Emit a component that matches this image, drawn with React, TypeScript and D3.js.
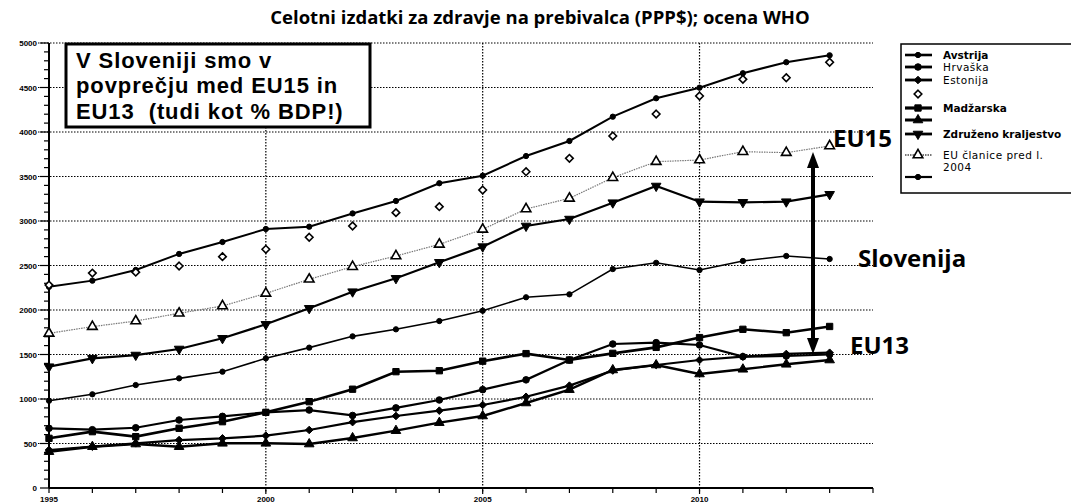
import * as d3 from "d3";

const years = [1995, 1996, 1997, 1998, 1999, 2000, 2001, 2002, 2003, 2004, 2005, 2006, 2007, 2008, 2009, 2010, 2011, 2012, 2013];

const avstrija = [2260, 2330, 2450, 2630, 2764, 2910, 2936, 3085, 3225, 3424, 3509, 3730, 3899, 4172, 4379, 4498, 4660, 4784, 4862];
const hrvaska = [671, 655, 677, 764, 805, 850, 876, 815, 900, 989, 1105, 1215, 1438, 1618, 1633, 1607, 1476, 1483, 1500];
const estonija = [427, 464, 502, 539, 558, 588, 652, 740, 809, 869, 933, 1025, 1150, 1320, 1382, 1438, 1476, 1506, 1520];
const diamondSeries = [2280, 2415, 2425, 2494, 2599, 2682, 2817, 2944, 3094, 3161, 3348, 3554, 3704, 3955, 4202, 4404, 4592, 4610, 4784];
const madzarska = [558, 633, 577, 671, 745, 850, 970, 1110, 1307, 1318, 1425, 1510, 1438, 1513, 1580, 1690, 1783, 1745, 1815];
const unnamedLine = [408, 464, 494, 464, 502, 502, 494, 562, 644, 734, 809, 955, 1105, 1326, 1382, 1281, 1334, 1390, 1438];
const zdruzenoKraljestvo = [1363, 1457, 1494, 1562, 1682, 1839, 2019, 2206, 2356, 2536, 2712, 2944, 3022, 3206, 3393, 3217, 3210, 3217, 3300];
const euPred2004 = [1738, 1813, 1876, 1963, 2045, 2187, 2345, 2487, 2607, 2738, 2906, 3135, 3255, 3487, 3667, 3685, 3779, 3768, 3843];
const slovenija = [981, 1053, 1157, 1232, 1307, 1457, 1577, 1704, 1783, 1876, 1992, 2143, 2176, 2460, 2530, 2449, 2551, 2607, 2573];

const yTicks = [0, 500, 1000, 1500, 2000, 2500, 3000, 3500, 4000, 4500, 5000];
const xTickLabels = [1995, 2000, 2005, 2010];

const title = "Celotni izdatki za zdravje na prebivalca (PPP$); ocena WHO";
const boxLines = ["V Sloveniji smo v", "povprečju med EU15 in", "EU13  (tudi kot % BDP!)"];

// legend order as in the picture, some labels are unreadable there
const legendRows = [
  { label: "Avstrija", bold: true },
  { label: "Hrvaška", bold: false },
  { label: "Estonija", bold: false },
  { label: "", bold: false },
  { label: "Madžarska", bold: true },
  { label: "", bold: false },
  { label: "Združeno kraljestvo", bold: true },
  { label: "EU članice pred l.|2004", bold: false },
  { label: "", bold: false },
];

const series = [
  { values: avstrija, marker: "circle", size: 22, width: 2, line: true },
  { values: hrvaska, marker: "circle", size: 34, width: 2.2, line: true },
  { values: estonija, marker: "diamond", size: 40, width: 2.2, line: true },
  { values: diamondSeries, marker: "diamondOpen", size: 40, width: 1.5, line: false },
  { values: madzarska, marker: "square", size: 40, width: 2.6, line: true },
  { values: unnamedLine, marker: "triangle", size: 40, width: 2.4, line: true },
  { values: zdruzenoKraljestvo, marker: "triDown", size: 40, width: 2.2, line: true },
  { values: euPred2004, marker: "triOpen", size: 40, width: 1.2, line: true, grey: true },
  { values: slovenija, marker: "circle", size: 22, width: 1.6, line: true },
];

const W = 1071;
const H = 503;
const plot = { left: 49, right: 873, top: 43, bottom: 488 };

function symbolPath(kind: string, size: number) {
  if (kind === "diamond" || kind === "diamondOpen") {
    const r = Math.sqrt(size) * 0.6;
    return `M0,${-r}L${r},0L0,${r}L${-r},0Z`;
  }
  const t =
    kind === "square" ? d3.symbolSquare :
    kind === "triangle" || kind === "triDown" || kind === "triOpen" ? d3.symbolTriangle :
    d3.symbolCircle;
  return d3.symbol().type(t).size(size)() || "";
}

function Marker({ kind, size, x, y }: { kind: string; size: number; x: number; y: number }) {
  const open = kind === "diamondOpen" || kind === "triOpen";
  const rot = kind === "triDown" ? 180 : 0;
  return (
    <path
      d={symbolPath(kind, size)}
      transform={`translate(${x},${y}) rotate(${rot})`}
      fill={open ? "#fff" : "#000"}
      stroke="#000"
      strokeWidth={open ? 1.6 : 1}
    />
  );
}

export default function App() {
  const x = d3.scaleLinear().domain([1995, 2014]).range([plot.left, plot.right]);
  const y = d3.scaleLinear().domain([0, 5000]).range([plot.bottom, plot.top]);
  const line = d3
    .line<number>()
    .x((_, i) => x(years[i]))
    .y((v) => y(v));

  const minorY = d3.range(0, 5001, 100);
  const minorX = d3.range(1995, 2015);
  const arrowX = 813;

  return (
    <svg
      width={W}
      height={H}
      style={{ position: "absolute", left: 0, top: 0, background: "#fff" }}
      fontFamily="'Liberation Sans', Arial, sans-serif"
    >
      <text x={540} y={24} textAnchor="middle" fontFamily="'Open Sans', sans-serif" fontWeight={700} fontSize={18.5}>
        {title}
      </text>

      {/* grid */}
      {yTicks.filter((t) => t > 0).map((t) => (
        <line key={"gy" + t} x1={38} x2={plot.right} y1={y(t)} y2={y(t)} stroke="#000" strokeWidth={1.2} strokeDasharray="1.5,1.5" />
      ))}
      {xTickLabels.filter((t) => t > 1995).map((t) => (
        <line key={"gx" + t} x1={x(t)} x2={x(t)} y1={plot.top} y2={494} stroke="#000" strokeWidth={1.2} strokeDasharray="1.5,1.5" />
      ))}

      {/* axes */}
      <line x1={plot.left} x2={plot.left} y1={plot.top} y2={plot.bottom} stroke="#000" strokeWidth={2} />
      <line x1={plot.left} x2={plot.right} y1={plot.bottom} y2={plot.bottom} stroke="#000" strokeWidth={2} />
      {minorY.map((t) => (
        <line key={"ty" + t} x1={t % 500 === 0 ? 40 : 44} x2={plot.left} y1={y(t)} y2={y(t)} stroke="#000" strokeWidth={1.2} />
      ))}
      {minorX.map((t) => (
        <line key={"tx" + t} x1={x(t)} x2={x(t)} y1={plot.bottom} y2={plot.bottom + 5} stroke="#000" strokeWidth={1.2} />
      ))}
      {yTicks.map((t) => (
        <text key={"ly" + t} x={37} y={y(t) + 3} textAnchor="end" fontSize={8} fontWeight={700}>
          {t}
        </text>
      ))}
      {xTickLabels.map((t) => (
        <text key={"lx" + t} x={x(t)} y={501.5} textAnchor="middle" fontSize={8} fontWeight={700}>
          {t}
        </text>
      ))}

      {/* series */}
      {series.map((s, i) => (
        <g key={"s" + i}>
          {s.line && (
            <path
              d={line(s.values) || ""}
              fill="none"
              stroke={s.grey ? "#777" : "#000"}
              strokeWidth={s.width}
              strokeDasharray={s.grey ? "1.5,1" : undefined}
            />
          )}
          {s.values.map((v, j) => (
            <Marker key={j} kind={s.marker} size={s.size} x={x(years[j])} y={y(v)} />
          ))}
        </g>
      ))}

      {/* text box */}
      <rect x={66} y={44} width={304} height={83} fill="#fff" stroke="#000" strokeWidth={3} />
      {boxLines.map((t, i) => (
        <text key={"b" + i} x={76} y={68 + i * 25.3} fontSize={22} letterSpacing={0.9} fontWeight={700} style={{ whiteSpace: "pre" }}>
          {t}
        </text>
      ))}

      {/* annotations */}
      <line x1={arrowX} x2={arrowX} y1={166} y2={340} stroke="#000" strokeWidth={4} />
      <path d={`M${arrowX - 6},168 L${arrowX},152 L${arrowX + 6},168 Z`} fill="#000" />
      <path d={`M${arrowX - 6},338 L${arrowX},354 L${arrowX + 6},338 Z`} fill="#000" />
      <g fontFamily="'Open Sans', sans-serif" fontWeight={700} fontSize={24}>
        <text x={833} y={147}>EU15</text>
        <text x={858} y={267}>Slovenija</text>
        <text x={850} y={354}>EU13</text>
      </g>

      {/* legend */}
      <rect x={901} y={44} width={180} height={149} fill="#fff" stroke="#000" strokeWidth={1.5} />
      {legendRows.map((r, i) => {
        const s = series[i];
        const cy = [55, 67, 80, 94, 108, 120, 134, 155, 177][i];
        const parts = r.label.split("|");
        return (
          <g key={"lg" + i}>
            {s.line && (
              <line x1={905} x2={932} y1={cy} y2={cy} stroke={s.grey ? "#777" : "#000"} strokeWidth={s.width + 0.6} strokeDasharray={s.grey ? "1.5,1" : undefined} />
            )}
            <Marker kind={s.marker} size={s.size} x={918} y={cy} />
            {parts.map((p, k) => (
              <text key={k} x={943} y={cy + 4 + k * 12} fontFamily="'DejaVu Sans', sans-serif" fontSize={10.5} fontWeight={r.bold ? 700 : 400} letterSpacing={r.bold ? 0 : 0.5}>
                {p}
              </text>
            ))}
          </g>
        );
      })}
    </svg>
  );
}
